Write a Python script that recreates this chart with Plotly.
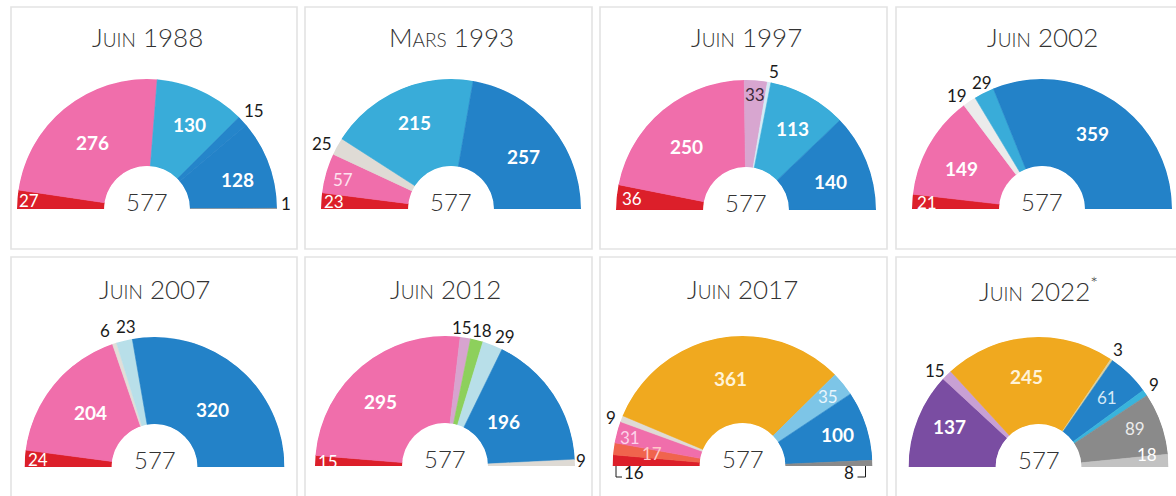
import numpy as np
import plotly.graph_objects as go

W, H = 1176, 496

# ---------------- DATA ----------------
titles = ["Juin 1988", "Mars 1993", "Juin 1997", "Juin 2002",
          "Juin 2007", "Juin 2012", "Juin 2017", "Juin 2022*"]

seats_1988 = [27, 276, 130, 15, 128, 1]
seats_1993 = [23, 57, 25, 215, 257]
seats_1997 = [36, 250, 33, 5, 113, 140]
seats_2002 = [21, 149, 19, 29, 359]
seats_2007 = [24, 204, 6, 23, 320]
seats_2012 = [15, 295, 15, 18, 29, 196, 9]
seats_2017 = [16, 17, 31, 9, 361, 35, 100, 8]
seats_2022 = [137, 15, 245, 3, 61, 9, 89, 18]

all_seats = [seats_1988, seats_1993, seats_1997, seats_2002,
             seats_2007, seats_2012, seats_2017, seats_2022]

# ---------------- STYLE ----------------
RED, PINK, LBLUE, BLUE = "#dc1f2a", "#f06eab", "#39acd9", "#2382c8"
colors = [
    [RED, PINK, LBLUE, "#2585ca", BLUE, "#9a9a9a"],
    [RED, PINK, "#dfdbd5", LBLUE, BLUE],
    [RED, PINK, "#d8a6d0", "#d3ecf6", LBLUE, BLUE],
    [RED, PINK, "#ebebeb", LBLUE, BLUE],
    [RED, PINK, "#e2ded8", "#b8dfe9", BLUE],
    [RED, PINK, "#d7a4cf", "#8dd05c", "#b8dfe9", BLUE, "#dedad4"],
    [RED, "#f0644d", PINK, "#dfdbd5", "#f0a91f", "#7dc5e7", BLUE, "#8a8a8a"],
    ["#7a4da2", "#c8a0d4", "#f0a91f", "#d9d0a0", BLUE, "#39b4dc", "#8a8a8a", "#c2c2c2"],
]

# label placement: (radius factor, angle offset deg, colour, bold)
Wb = ("#ffffff", True)
Wn = ("#ffffff", False)
K = ("#1a1a1a", False)
label_style = [
    [(0.91, 0, *Wn), (0.66, 1, *Wb), (0.73, -2, *Wb), (1.12, 0, *K), (0.73, -2, *Wb), (1.07, 2, *K)],
    [(0.90, 0, *Wn), (0.86, 1, "#fde3ef", False), (1.11, 2, *K), (0.72, -1, *Wb), (0.69, -4, *Wb)],
    [(0.88, 0, *Wn), (0.67, 3, *Wb), (0.89, 0, "#3b2b3b", False), (1.09, -1, *K), (0.72, -1, *Wb), (0.69, -3, *Wb)],
    [(0.886, 0, *Wn), (0.69, 3, *Wb), (1.09, 3, *K), (1.08, -1, *K), (0.70, 0, *Wb)],
    [(0.90, 0, *Wn), (0.65, -1, *Wb), (1.12, 2, *K), (1.10, -2, *K), (0.63, -5, *Wb)],
    [(0.90, 0, *Wn), (0.70, 6, *Wb), (1.07, 2, *K), (1.08, -1, *K), (1.10, -3.5, *K), (0.57, 4, *Wb), (1.05, 1, *K)],
    [None, (0.70, 0, "#ffc9c9", False), (0.89, 1, "#fcd3ea", False), (1.08, 1, *K),
     (0.68, -3, "#fff3d8", True), (0.85, 0, "#eaf6fc", False), (0.77, 0, *Wb), None],
    [(0.75, -3, *Wb), (1.09, 2, *K), (0.70, 3, "#fff3d8", True), (1.09, 0, *K),
     (0.75, 0, "#d5e9f7", False), (1.09, 0.6, *K), (0.80, 2.5, "#ececec", False), (0.84, 4, *Wn)],
]

R = 130
centers = [(147, 209), (451, 209), (746, 210), (1042, 209),
           (154.5, 467), (445, 466), (742.5, 466), (1038.5, 467)]
boxes_x = [(11, 297), (305, 592), (600, 887), (896, 1183)]
boxes_y = [(7, 249), (257, 499)]
title_y = [37, 289]
HOLE = 0.33
FONT = "Lato"


def smallcaps(s):
    star = s.endswith("*")
    s = s.rstrip("*")
    word, year = s.split(" ")
    out = word[0].upper() + "<span style='font-size:19px'>" + word[1:].upper() + "</span> " + year
    if star:
        out += "<sup>*</sup>"
    return out


def px(x, y):
    return x / W, 1 - y / H


def ann(x, y, text, font):
    ax_, ay_ = px(x, y)
    return dict(x=ax_, y=ay_, xref="paper", yref="paper", text=text, showarrow=False,
                xanchor="center", yanchor="middle", font=font)


fig = go.Figure()
annotations = []
shapes = []

# panel frames
for (y0, y1) in boxes_y:
    for (x0, x1) in boxes_x:
        shapes.append(dict(type="rect", xref="paper", yref="paper",
                           x0=x0 / W, x1=x1 / W, y0=1 - y1 / H, y1=1 - y0 / H,
                           line=dict(color="#e3e3e3", width=1.6), fillcolor="rgba(0,0,0,0)", layer="below"))

for i, seats in enumerate(all_seats):
    vals = np.array(seats, dtype=float)
    total = vals.sum()
    widths = vals * 180.0 / total
    starts = np.concatenate([[0], np.cumsum(widths)[:-1]])
    mids = starts + widths / 2
    cx, cy = centers[i]
    name = "polar" if i == 0 else f"polar{i + 1}"
    fig.add_trace(go.Barpolar(
        r=[1] * len(vals), theta=mids, width=widths,
        marker=dict(color=colors[i], line=dict(color=colors[i], width=0.6)),
        subplot=name, hoverinfo="skip", showlegend=False))
    fig.layout[name] = dict(
        domain=dict(x=[(cx - R) / W, (cx + R) / W], y=[(H - cy) / H, (H - cy + R) / H]),
        sector=[0, 180], hole=HOLE, bgcolor="rgba(0,0,0,0)",
        radialaxis=dict(visible=False, range=[0, 1]),
        angularaxis=dict(visible=False, rotation=180, direction="clockwise"))

    # title
    annotations.append(ann(cx, title_y[i // 4], smallcaps(titles[i]),
                           dict(family=FONT, size=26, color="#333333", weight=300)))
    # total in the centre
    annotations.append(ann(cx, cy - 8, str(int(total)),
                           dict(family=FONT, size=24, color="#333333", weight=300)))

    # segment labels
    for j, v in enumerate(seats):
        st = label_style[i][j]
        if st is None:
            continue
        rf, dphi, col, bold = st
        phi = np.radians(180 - mids[j] + dphi)
        lx = cx + rf * R * np.cos(phi)
        ly = cy - rf * R * np.sin(phi)
        annotations.append(ann(lx, ly, str(v),
                               dict(family=FONT, size=19 if bold else 17, color=col,
                                    weight=700 if bold else 400)))

# bracketed labels for the two thin end segments of 2017
cx, cy = centers[6]
first, last = seats_2017[0], seats_2017[-1]


def bracket(pts):
    return dict(type="path", xref="paper", yref="paper",
                path="M " + " L ".join(f"{px(a, b)[0]},{px(a, b)[1]}" for a, b in pts),
                line=dict(color="#1a1a1a", width=1))


lx0 = cx - R + 3.5
shapes.append(bracket([(lx0, cy), (lx0, cy + 11), (lx0 + 6, cy + 11)]))
annotations.append(ann(cx - R + 21, cy + 6, str(first), dict(family=FONT, size=17, color="#1a1a1a")))
rx0 = cx + R - 7
shapes.append(bracket([(rx0, cy), (rx0, cy + 11), (rx0 - 8, cy + 11)]))
annotations.append(ann(cx + R - 24, cy + 6, str(last), dict(family=FONT, size=17, color="#1a1a1a")))

fig.update_layout(width=W, height=H, margin=dict(l=0, r=0, t=0, b=0),
                  paper_bgcolor="white", plot_bgcolor="white",
                  annotations=annotations, shapes=shapes, showlegend=False)
fig.write_html("out.html", config={"displayModeBar": False},
               post_script="document.body.style.margin='0';document.body.style.overflow='hidden';")
